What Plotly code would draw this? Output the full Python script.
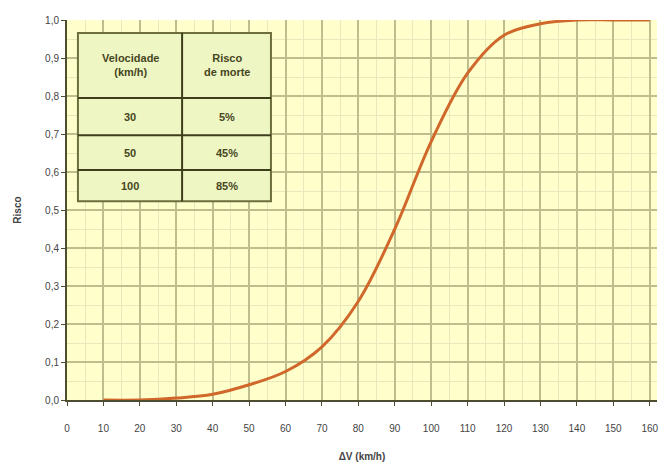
import plotly.graph_objects as go

# Risco de morte em função da variação de velocidade no impacto
delta_v = [10, 20, 30, 40, 50, 60, 70, 80, 90, 100, 110, 120, 130, 140, 150, 160]
risco = [0.0, 0.0, 0.005, 0.015, 0.04, 0.075, 0.14, 0.26, 0.45, 0.68, 0.86, 0.96, 0.99, 1.0, 1.0, 1.0]

# Tabela de referência
tab_cabecalho = ["<b>Velocidade</b><br><b>(km/h)</b>", "<b>Risco</b><br><b>de morte</b>"]
tab_velocidade = ["30", "50", "100"]
tab_risco = ["5%", "45%", "85%"]

fig = go.Figure()
fig.add_trace(go.Scatter(
    x=delta_v, y=risco, mode="lines", line_shape="spline",
    line=dict(color="#D0682C", width=3), hoverinfo="x+y", showlegend=False,
))

# Tabela desenhada em coordenadas dos eixos
x0, xm, x1 = 3, 31.6, 56
y_lines = [0.966, 0.795, 0.697, 0.605, 0.523]
shapes = [dict(type="rect", xref="x", yref="y", x0=x0, x1=x1, y0=y_lines[-1], y1=y_lines[0],
               fillcolor="#EEF6C4", line=dict(color="#6E6E3C", width=2), layer="above")]
for yy in y_lines[1:-1]:
    shapes.append(dict(type="line", xref="x", yref="y", x0=x0, x1=x1, y0=yy, y1=yy,
                       line=dict(color="#3E3E1C", width=2), layer="above"))
shapes.append(dict(type="line", xref="x", yref="y", x0=xm, x1=xm, y0=y_lines[-1], y1=y_lines[0],
                   line=dict(color="#3E3E1C", width=2), layer="above"))

tfont = dict(family="Liberation Sans, Arial", size=11, color="#46461E")
annotations = []
cx = [(x0 + xm) / 2, (xm + x1) / 2]
for i, txt in enumerate(tab_cabecalho):
    annotations.append(dict(x=cx[i], y=(y_lines[0] + y_lines[1]) / 2, xref="x", yref="y",
                            text=txt, showarrow=False, font=tfont))
for r in range(len(tab_velocidade)):
    yc = (y_lines[r + 1] + y_lines[r + 2]) / 2
    annotations.append(dict(x=cx[0], y=yc, xref="x", yref="y", text="<b>" + tab_velocidade[r] + "</b>",
                            showarrow=False, font=tfont))
    annotations.append(dict(x=cx[1], y=yc, xref="x", yref="y", text="<b>" + tab_risco[r] + "</b>",
                            showarrow=False, font=tfont))

axis_font = dict(family="Liberation Sans, Arial", size=10, color="#444444")
fig.update_layout(
    width=664, height=469,
    margin=dict(l=67, r=7, t=20, b=69),
    paper_bgcolor="white", plot_bgcolor="#FFFFCC",
    separators=",.",
    shapes=shapes, annotations=annotations,
    xaxis=dict(range=[0, 162], dtick=10, tick0=0, showgrid=True, gridcolor="#BDBD8E", gridwidth=2,
               minor=dict(dtick=5, showgrid=True, gridcolor="#E8E8BC", gridwidth=1),
               showline=True, linecolor="#4D4D30", linewidth=2, ticks="outside", ticklen=4,
               tickcolor="#4D4D30", zeroline=False, tickfont=axis_font, ticklabelstandoff=14,
               title=dict(text="<b>ΔV (km/h)</b>", font=axis_font, standoff=20)),
    yaxis=dict(range=[0, 1], dtick=0.1, tickformat=".1f", showgrid=True, gridcolor="#BDBD8E",
               gridwidth=2, minor=dict(dtick=0.05, showgrid=True, gridcolor="#E8E8BC", gridwidth=1),
               showline=True, linecolor="#4D4D30", linewidth=2, ticks="outside", ticklen=4,
               tickcolor="#4D4D30", zeroline=False, tickfont=axis_font,
               title=dict(text="<b>Risco</b>", font=axis_font, standoff=22)),
)

fig.write_html("out.html")
